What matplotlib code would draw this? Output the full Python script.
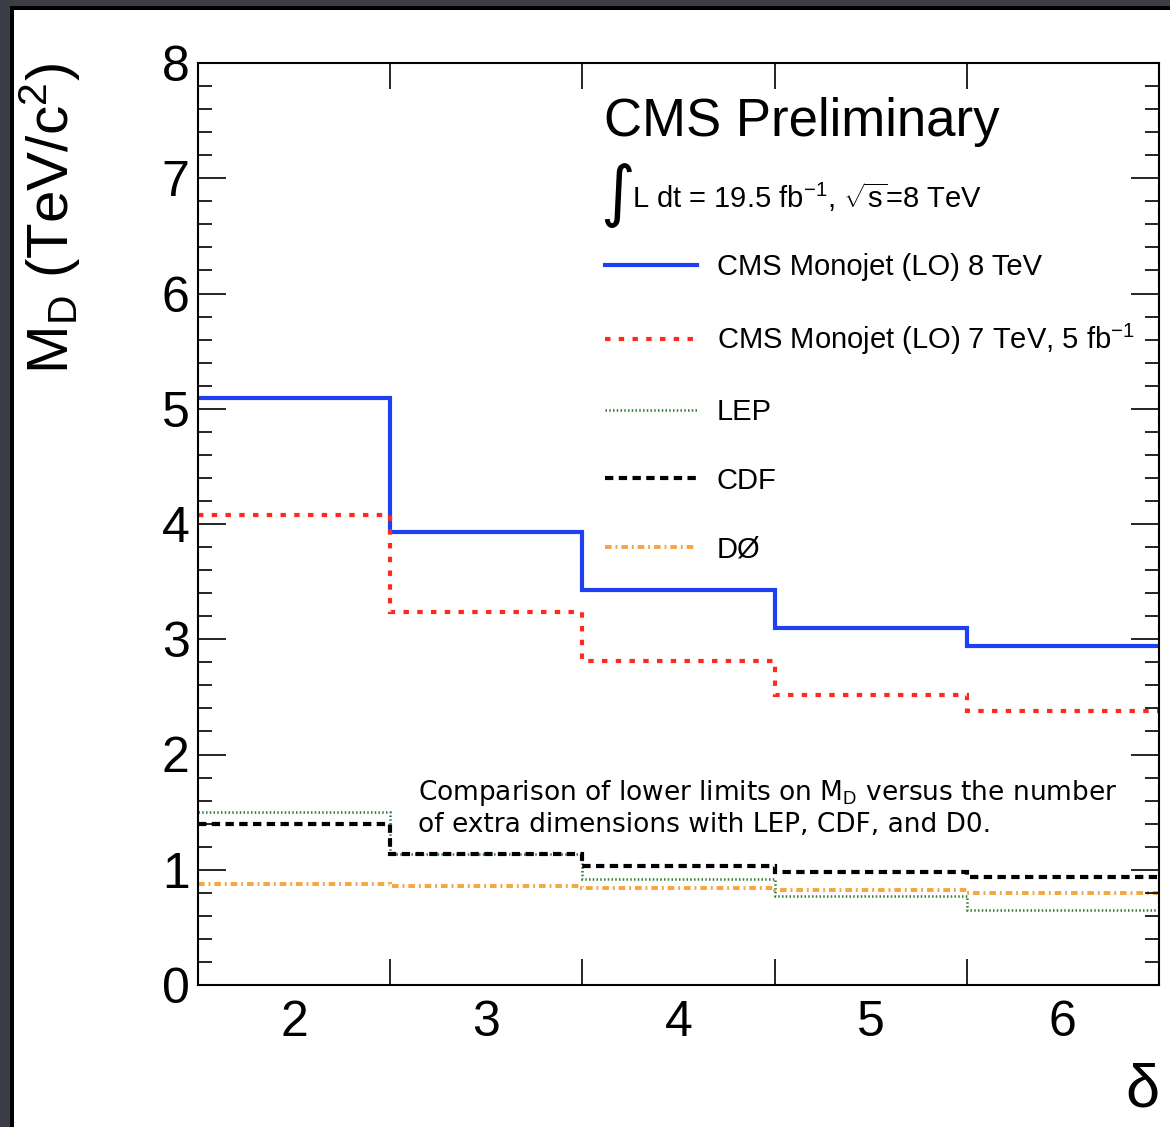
import matplotlib
matplotlib.use("Agg")
import matplotlib.pyplot as plt
from matplotlib.patches import Rectangle
from matplotlib.lines import Line2D

# ---------------- data ----------------
edges = [1.5, 2.5, 3.5, 4.5, 5.5, 6.5]
delta = [2, 3, 4, 5, 6]
cms8 = [5.09, 3.93, 3.43, 3.10, 2.94]
cms7 = [4.08, 3.24, 2.81, 2.52, 2.38]
lep = [1.50, 1.14, 0.92, 0.77, 0.65]
cdf = [1.40, 1.14, 1.03, 0.98, 0.94]
d0 = [0.88, 0.86, 0.84, 0.82, 0.80]
labels = ["CMS Monojet (LO) 8 TeV", "CMS Monojet (LO) 7 TeV, 5 fb$^{-1}$",
          "LEP", "CDF", "DØ"]

plt.rcParams['font.family'] = ['Liberation Sans', 'DejaVu Sans']
plt.rcParams['mathtext.fontset'] = 'custom'
plt.rcParams['mathtext.rm'] = 'Liberation Sans'
plt.rcParams['mathtext.it'] = 'Liberation Sans:italic'
plt.rcParams['mathtext.bf'] = 'Liberation Sans:bold'

W, H = 1170, 1127
fig = plt.figure(figsize=(W / 100, H / 100), dpi=100, facecolor='#3b3e46')
fig.patches.append(Rectangle((12 / W, -0.05), 1.2, (H - 8) / H + 0.05,
                             transform=fig.transFigure, facecolor='white',
                             edgecolor='black', lw=2.9, zorder=-10))

ax = fig.add_axes([198 / W, 1 - 985 / H, (1159 - 198) / W, (985 - 63) / H])
ax.set_facecolor('none')

blue = '#1f3ff2'
red = '#ff2a1f'
green = '#2f7a2f'
orange = '#f7a540'

ls_red = (0, (1.3, 2.0))
ls_lep = (0, (0.6, 0.9))
ls_cdf = (0, (2.0, 1.3))
ls_d0 = (0, (1.7, 1.0, 0.5, 1.0))

st = dict(baseline=None)
ax.stairs(cms8, edges, color=blue, lw=3.0, **st)
ax.stairs(cms7, edges, color=red, lw=3.0, linestyle=ls_red, **st)
ax.stairs(lep, edges, color=green, lw=1.8, linestyle=ls_lep, **st)
ax.stairs(cdf, edges, color='black', lw=3.0, linestyle=ls_cdf, **st)
ax.stairs(d0, edges, color=orange, lw=2.8, linestyle=ls_d0, **st)

ax.set_xlim(1.5, 6.5)
ax.set_ylim(0, 8)

# ticks
ax.set_xticks(edges[1:-1])
ax.set_xticklabels([])
ax.set_xticks(delta, minor=True)
ax.set_xticklabels([str(d) for d in delta], minor=True)
ax.tick_params(axis='x', which='major', direction='in', length=19, width=1.2,
               top=True, bottom=True)
ax.tick_params(axis='x', which='minor', length=0, labelsize=36, pad=11)
ax.set_yticks(range(0, 9))
ax.set_yticks([i * 0.2 for i in range(41)], minor=True)
ax.tick_params(axis='y', which='major', direction='in', length=20, width=1.2,
               left=True, right=True, labelsize=36, pad=6)
ax.tick_params(axis='y', which='minor', direction='in', length=10, width=1.2,
               left=True, right=True)
for s in ax.spines.values():
    s.set_linewidth(1.5)

ax.set_ylabel(r"M$_{\rm D}$ (TeV/c$^{2}$)", loc='top', fontsize=42, labelpad=57)
ax.set_xlabel("δ", loc='right', fontsize=44, labelpad=12)

# texts
ax.text((604 - 198) / (1159 - 198), 1 - (122 - 63) / (985 - 63), "CMS Preliminary",
        transform=ax.transAxes, fontsize=38, ha='left', va='center')
ax.text((600 - 198) / (1159 - 198), 1 - (195 - 63) / (985 - 63), "∫",
        transform=ax.transAxes, fontsize=48, ha='left', va='center',
        family=['DejaVu Sans'])
ax.text((632 - 198) / (1159 - 198), 1 - (197 - 63) / (985 - 63),
        r"L dt = 19.5 fb$^{-1}$, $\sqrt{\mathrm{s}}$=8 TeV",
        transform=ax.transAxes, fontsize=21, ha='left', va='center')

handles = [
    Line2D([], [], color=blue, lw=3.0),
    Line2D([], [], color=red, lw=3.0, linestyle=ls_red),
    Line2D([], [], color=green, lw=1.8, linestyle=ls_lep),
    Line2D([], [], color='black', lw=3.0, linestyle=ls_cdf),
    Line2D([], [], color=orange, lw=2.8, linestyle=ls_d0),
]
leg = ax.legend(handles, labels, loc='upper left',
                bbox_to_anchor=((605 - 198) / (1159 - 198), 1 - (253 - 63) / (985 - 63)),
                frameon=False, fontsize=21, handlelength=3.15, handletextpad=0.68,
                labelspacing=1.40, borderpad=0, borderaxespad=0)

ax.text((418 - 198) / (1159 - 198), 1 - (808 - 63) / (985 - 63),
        "Comparison of lower limits on M$_{\\rm D}$ versus the number\n"
        "of extra dimensions with LEP, CDF, and D0.",
        transform=ax.transAxes, fontsize=19, ha='left', va='center',
        family=['DejaVu Sans'], linespacing=1.17)

fig.savefig("out.png", dpi=100, facecolor=fig.get_facecolor())
